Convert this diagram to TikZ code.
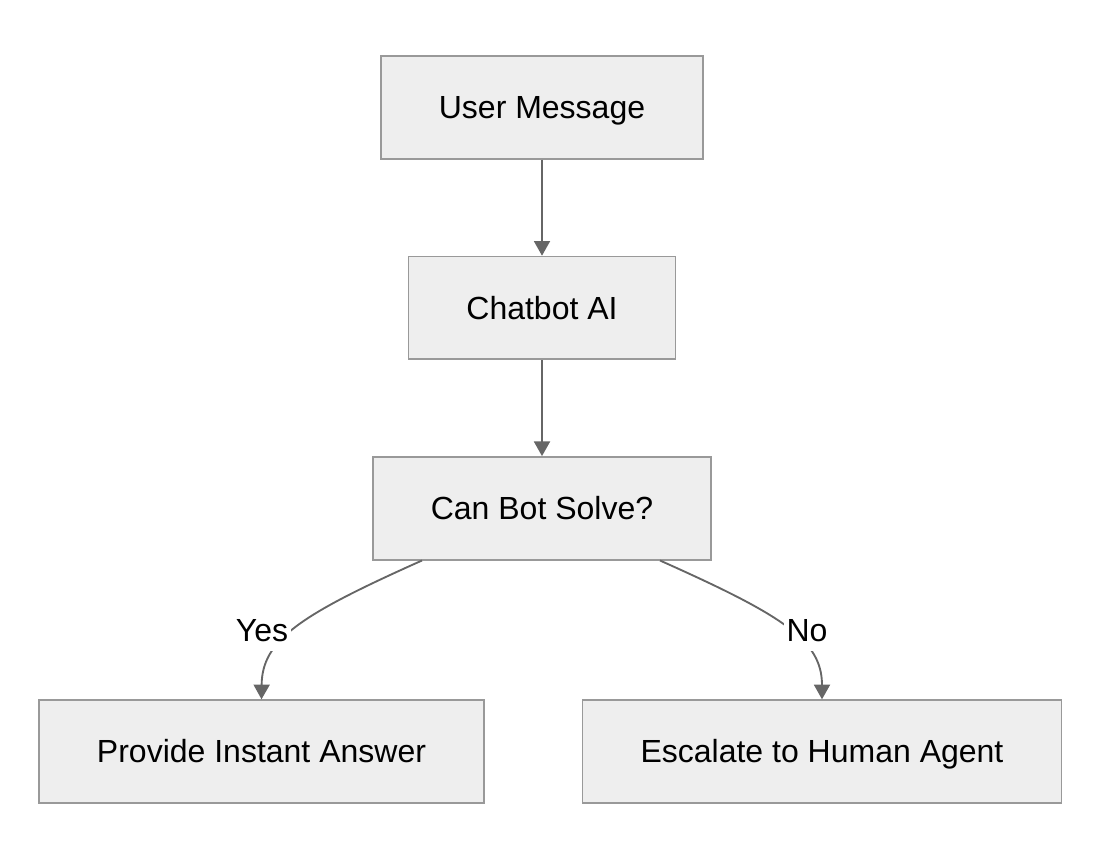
\documentclass[tikz,border=0pt]{standalone}
\usepackage{fontspec}
\setmainfont{Liberation Sans}
\usetikzlibrary{positioning,arrows.meta}
\definecolor{boxfill}{HTML}{EEEEEE}
\definecolor{boxline}{HTML}{999999}
\definecolor{linkline}{HTML}{666666}
\tikzset{
  stepbox/.style={draw=boxline, fill=boxfill, line width=1.3pt, minimum height=77pt,
    inner xsep=43.5pt, text height=22.2pt, text depth=5pt,
    font=\fontsize{24}{28}\selectfont},
  link/.style={draw=linkline, line width=1.4pt, -{Triangle[width=12pt,length=11pt]}},
  answer/.style={fill=white, inner sep=2pt, text height=22.2pt, text depth=5pt,
    font=\fontsize{24}{28}\selectfont}
}

\begin{document}
\begin{tikzpicture}[x=0.75pt, y=-0.75pt]
\useasboundingbox (0,0) rectangle (1100,860);

% Define nodes
\node[stepbox] at (542,107.5)          (msg)   {User Message};
\node[stepbox, below=72pt of msg]      (bot)   {Chatbot AI};
\node[stepbox, below=72pt of bot]      (solve) {Can Bot Solve?};
\node[stepbox] at (261.5,751.5)        (inst)  {Provide Instant Answer};
\node[stepbox] at (822,751.5)          (human) {Escalate to Human Agent};

% Connect the nodes
\draw[link] (msg) -- (bot);
\draw[link] (bot) -- (solve);
\draw[link] ([xshift=-90pt]solve.south) .. controls (300,615) and (262,640) .. (inst.north);
\draw[link] ([xshift=88.5pt]solve.south) .. controls (782,615) and (822,640) .. (human.north);

% Labels
\node[answer] at (262,630) (yes) {Yes};
\node[answer] at (807,630) (no)  {No};

\end{tikzpicture}
\end{document}
